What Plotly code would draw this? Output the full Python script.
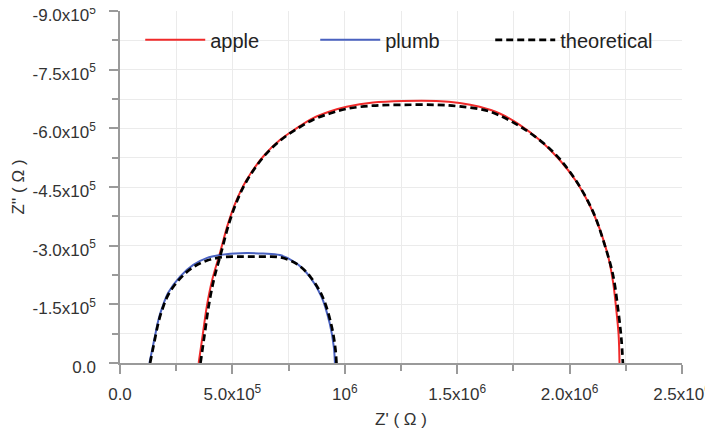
"""
Nyquist plot: apple vs plumb impedance with theoretical fits.
"""

import plotly.graph_objects as go

# DATA, Z' and Z'' in ohm
apple_re = [3.50e5, 3.69e5, 3.86e5, 4.10e5, 4.44e5, 4.81e5, 5.19e5, 5.63e5, 6.37e5,
            7.11e5, 7.85e5, 8.59e5, 9.33e5, 1.008e6, 1.126e6, 1.259e6, 1.407e6,
            1.511e6, 1.600e6, 1.689e6, 1.778e6, 1.867e6, 1.956e6, 2.030e6, 2.089e6,
            2.133e6, 2.170e6, 2.193e6, 2.207e6, 2.218e6, 2.222e6]
apple_im = [0, -0.76e5, -1.44e5, -2.12e5, -2.80e5, -3.57e5, -4.17e5, -4.68e5, -5.28e5,
            -5.70e5, -6.00e5, -6.26e5, -6.43e5, -6.55e5, -6.66e5, -6.70e5, -6.70e5,
            -6.65e5, -6.55e5, -6.38e5, -6.09e5, -5.70e5, -5.19e5, -4.64e5, -4.04e5,
            -3.44e5, -2.76e5, -2.08e5, -1.40e5, -0.72e5, 0]

apple_fit_re = [3.58e5, 3.77e5, 3.94e5, 4.17e5, 4.48e5, 4.84e5, 5.21e5, 5.64e5, 6.37e5,
                7.11e5, 7.85e5, 8.59e5, 9.33e5, 1.008e6, 1.126e6, 1.259e6, 1.407e6,
                1.511e6, 1.644e6, 1.793e6, 1.926e6, 2.022e6, 2.104e6, 2.156e6, 2.193e6,
                2.215e6, 2.230e6, 2.237e6]
apple_fit_im = [0, -0.76e5, -1.44e5, -2.12e5, -2.78e5, -3.55e5, -4.15e5, -4.66e5, -5.26e5,
                -5.68e5, -5.98e5, -6.22e5, -6.38e5, -6.50e5, -6.58e5, -6.60e5, -6.60e5,
                -6.56e5, -6.43e5, -6.00e5, -5.40e5, -4.72e5, -3.87e5, -3.02e5, -2.25e5,
                -1.40e5, -0.63e5, 0]

plumb_re = [1.31e5, 1.55e5, 1.70e5, 1.88e5, 2.15e5, 2.67e5, 3.26e5, 3.85e5, 4.44e5,
            5.10e5, 5.63e5, 6.37e5, 7.11e5, 7.85e5, 8.44e5, 8.96e5, 9.33e5, 9.51e5,
            9.56e5]
plumb_im = [0, -0.67e5, -1.08e5, -1.42e5, -1.80e5, -2.21e5, -2.51e5, -2.68e5, -2.76e5,
            -2.80e5, -2.81e5, -2.80e5, -2.76e5, -2.55e5, -2.21e5, -1.70e5, -1.01e5,
            -0.42e5, 0]

plumb_fit_re = [1.34e5, 1.57e5, 1.72e5, 1.90e5, 2.17e5, 2.69e5, 3.28e5, 3.87e5, 4.46e5,
                5.10e5, 5.63e5, 6.37e5, 7.15e5, 7.90e5, 8.50e5, 9.02e5, 9.39e5, 9.57e5,
                9.63e5]
plumb_fit_im = [0, -0.66e5, -1.06e5, -1.40e5, -1.77e5, -2.17e5, -2.46e5, -2.62e5, -2.70e5,
                -2.72e5, -2.72e5, -2.72e5, -2.70e5, -2.52e5, -2.18e5, -1.68e5, -1.00e5,
                -0.42e5, 0]

# axis ticks
x_tickvals = [0, 5e5, 1e6, 1.5e6, 2e6, 2.5e6]
x_ticktext = ["0.0", "5.0x10<sup>5</sup>", "10<sup>6</sup>", "1.5x10<sup>6</sup>",
              "2.0x10<sup>6</sup>", "2.5x10<sup>6</sup>"]
y_tickvals = [0, -1.5e5, -3.0e5, -4.5e5, -6.0e5, -7.5e5, -9.0e5]
y_ticktext = ["0.0", "-1.5x10<sup>5</sup>", "-3.0x10<sup>5</sup>", "-4.5x10<sup>5</sup>",
              "-6.0x10<sup>5</sup>", "-7.5x10<sup>5</sup>", "-9.0x10<sup>5</sup>"]

RED = "#f02a2a"
BLUE = "#4a62c0"
DASH = "7px,4px"

fig = go.Figure()
fig.add_trace(go.Scatter(x=apple_re, y=apple_im, name="apple", mode="lines",
                         line=dict(color=RED, width=2, shape="spline", smoothing=1.0)))
fig.add_trace(go.Scatter(x=plumb_re, y=plumb_im, name="plumb", mode="lines",
                         line=dict(color=BLUE, width=2, shape="spline", smoothing=1.0)))
fig.add_trace(go.Scatter(x=apple_fit_re, y=apple_fit_im, name="theoretical", mode="lines",
                         legendgroup="fit",
                         line=dict(color="black", width=2.7, dash=DASH,
                                   shape="spline", smoothing=1.0)))
fig.add_trace(go.Scatter(x=plumb_fit_re, y=plumb_fit_im, name="theoretical", mode="lines",
                         legendgroup="fit", showlegend=False,
                         line=dict(color="black", width=2.7, dash=DASH,
                                   shape="spline", smoothing=1.0)))

axis_common = dict(
    automargin=False,
    ticklabeloverflow="allow",
    showline=True, linecolor="#9a9a9a", linewidth=1.5,
    showgrid=True, gridcolor="#ebebeb", gridwidth=1,
    ticks="outside", ticklen=9, tickcolor="#9a9a9a", tickwidth=1.5,
    zeroline=False,
    tickfont=dict(size=17, color="#333333"),
)

fig.update_xaxes(
    range=[0, 2.5e6], tickmode="array", tickvals=x_tickvals, ticktext=x_ticktext,
    ticklabelstandoff=6,
    minor=dict(dtick=2.5e5, ticks="outside", ticklen=6, tickcolor="#9a9a9a",
               showgrid=True, gridcolor="#ebebeb"),
    title=dict(text="Z' ( Ω )", font=dict(size=17, color="#333333"), standoff=10),
    **axis_common,
)
fig.update_yaxes(
    range=[0, -9e5], tickmode="array", tickvals=y_tickvals, ticktext=y_ticktext,
    ticklabelstandoff=10, ticklabelshift=-4,
    minor=dict(dtick=7.5e4, ticks="outside", ticklen=6, tickcolor="#9a9a9a",
               showgrid=True, gridcolor="#ebebeb"),
    title=dict(text="Z'' ( Ω )", font=dict(size=17, color="#333333"), standoff=4),
    **axis_common,
)

# the page body adds 8px around the figure, so the figure is 8px smaller
fig.update_layout(
    width=705, height=426,
    margin=dict(l=112, r=31, t=3, b=71),
    paper_bgcolor="white", plot_bgcolor="white",
    font=dict(family="Liberation Sans, Arial, sans-serif", color="#333333"),
    showlegend=True,
    legend=dict(orientation="h", x=0.036, y=0.918, yanchor="middle", xanchor="left",
                bgcolor="rgba(0,0,0,0)", font=dict(size=20, color="#222222"),
                itemwidth=60, entrywidth=100, entrywidthmode="pixels"),
)

fig.write_html("out.html")
